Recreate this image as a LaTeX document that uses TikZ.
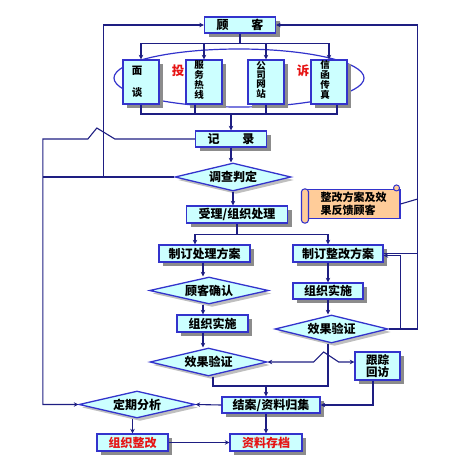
\documentclass[tikz,border=0pt]{standalone}
\usepackage{fontspec}
\setmainfont{Noto Sans CJK SC}
\usetikzlibrary{shapes.geometric,shadows,arrows.meta,calc}
\definecolor{boxfill}{RGB}{204,255,255}
\definecolor{boxdraw}{RGB}{51,51,204}
\definecolor{linec}{RGB}{30,30,130}
\definecolor{notefill}{RGB}{255,204,153}
\definecolor{redtext}{RGB}{230,20,20}
\begin{document}
\begin{tikzpicture}[x=1pt,y=-1pt,
  every node/.style={font=\fontsize{12}{14}\selectfont\bfseries, text=black},
  box/.style={draw=boxdraw, fill=boxfill, line width=1.3pt, inner sep=0pt,
    drop shadow={shadow xshift=4pt, shadow yshift=-4pt, fill=black!45, opacity=1}},
  dia/.style={diamond, aspect=4, draw=boxdraw, fill=boxfill, line width=1.3pt, inner sep=0pt,
    drop shadow={shadow xshift=3pt, shadow yshift=-3pt, fill=black!25, opacity=1}},
  vbox/.style={box, minimum width=36, minimum height=44},
  vtext/.style={align=center, inner sep=0pt, font=\fontsize{9.5}{8.8}\selectfont\bfseries},
  redlabel/.style={text=redtext, font=\fontsize{12.5}{14}\selectfont\bfseries},
  ln/.style={draw=linec, line width=1.1pt},
  arr/.style={ln, -{Stealth[length=4.5pt,width=4.5pt]}},
  darr/.style={ln, {Stealth[length=4.5pt,width=4.5pt]}-{Stealth[length=4.5pt,width=4.5pt]}},
]
\useasboundingbox (0,0) rectangle (465,474);

% ellipse behind the channel boxes
\draw[draw=boxdraw, line width=1.2pt] (239,78) ellipse [x radius=125, y radius=29];

% top
\node[box, minimum width=71, minimum height=16] (gk) at (240,25) {顾\hspace{1.9em}客};
\node[vbox] (mt) at (141,82) {};
\node[vbox] (fw) at (204,82) {};
\node[vbox] (gs) at (266,82) {};
\node[vbox] (xh) at (329,82) {};
\node[vtext, font=\fontsize{10.5}{12}\selectfont\bfseries] (mtt) at ([xshift=-4pt]mt.center) {面\\[10pt]谈};
\node[vtext] (fwt) at ([xshift=-5pt,yshift=2pt]fw.center) {服\\务\\热\\线};
\node[vtext] (gst) at ([xshift=-5pt,yshift=2pt]gs.center) {公\\司\\网\\站};
\node[vtext] (xht) at ([xshift=-4pt,yshift=2pt]xh.center) {信\\函\\传\\真};
\node[redlabel] (tou) at (178,71) {投};
\node[redlabel] (su) at (303,71) {诉};
\node[box, minimum width=71, minimum height=16] (jl) at (231,139) {记\hspace{1.9em}录};

\node[dia, minimum width=116, minimum height=28] (dc) at (233,177) {调查判定};
\node[box, minimum width=101, minimum height=17] (sl) at (237,214.5) {受理/组织处理};

% left column
\node[box, minimum width=91, minimum height=17] (zc) at (204.5,253.5) {制订处理方案};
\node[dia, minimum width=119, minimum height=27] (qr) at (209,290.5) {顾客确认};
\node[box, minimum width=71, minimum height=17] (ss1) at (212.5,323.5) {组织实施};
\node[dia, minimum width=117, minimum height=28] (yz1) at (208.5,362) {效果验证};

% right column
\node[box, minimum width=90, minimum height=17] (zg) at (338,253.5) {制订整改方案};
\node[box, minimum width=70, minimum height=16] (ss2) at (328,291) {组织实施};
\node[dia, minimum width=113, minimum height=28] (yz2) at (331.5,329) {效果验证};
\node[box, minimum width=45, minimum height=28, align=center,
  font=\fontsize{11.5}{12.5}\selectfont\bfseries] (gz) at (377.5,366) {跟踪\\回访};

% note scroll
\node[draw=boxdraw, fill=notefill, line width=1.1pt, minimum width=93, minimum height=29,
  align=left, inner sep=0pt, font=\fontsize{11}{12.5}\selectfont\bfseries] (note) at (353.5,204)
  {整改方案及效\\果反馈顾客};
\draw[draw=boxdraw, fill=notefill, line width=1.1pt, rounded corners=3pt]
  ($(note.north west)+(-5,0)$) rectangle ($(note.south west)+(2,4)$);
\draw[draw=boxdraw, fill=notefill, line width=1pt] ($(note.north east)+(-4,-1)$) circle (3);

% bottom
\node[box, minimum width=98, minimum height=16] (ja) at (271,405) {结案/资料归集};
\node[dia, minimum width=116, minimum height=27] (dq) at (137,404.5) {定期分析};
\node[box, minimum width=71, minimum height=17, text=redtext] (zz) at (132.5,442.5) {组织整改};
\node[box, minimum width=72, minimum height=17, text=redtext] (zd) at (266,442.5) {资料存档};

\coordinate (lcol) at (203,0);
\coordinate (rcol) at (328,0);

% connectors top
\draw[ln] (gk.south) -- ++(0,10) coordinate (bus1);
\draw[arr] (bus1) -| (mt.north);
\draw[arr] (bus1) -| (fw.north);
\draw[arr] (bus1) -| (gs.north);
\draw[arr] (bus1) -| (xh.north);
\coordinate (bus2) at (231,114);
\draw[ln] (mt.south) |- ([xshift=8pt]xh.south |- bus2) -- ([xshift=8pt]xh.south);
\draw[ln] ([xshift=-9pt]fw.south) -- ([xshift=-9pt]fw.south |- bus2);
\draw[ln] (gs.south) -- (gs.south |- bus2);
\draw[arr] (bus2) -- (jl.north);

% record to left, with hop
\draw[arr] (jl.west) -- ++(-80,0) -- ++(-18,-11) -- ++(-9,11) -- ++(-45,0) coordinate (lft) |- (dq.west);
\draw[arr] (jl.south) -- (jl.south |- dc.north);
\draw[ln] (dc.west) -- (dc.west -| lft);
\draw[arr] ([xshift=-71pt]dc.west) |- (gk.west);

\draw[arr] (dc.south) -- (dc.south |- sl.north);
\draw[ln] (sl.south) -- ++(0,11) coordinate (bus3);
\draw[arr] (bus3) -| ([xshift=-9.5pt]zc.north);
\draw[arr] (bus3) -| (zg.north -| rcol);

% left column
\draw[arr] (zc.south -| lcol) -- (qr.north -| lcol);
\draw[arr] (qr.south -| lcol) -- (ss1.north -| lcol);
\draw[arr] (ss1.south -| lcol) -- (yz1.north -| lcol);

% right column
\draw[arr] (zg.south -| rcol) -- (ss2.north -| rcol);
\draw[arr] (ss2.south -| rcol) -- (yz2.north -| rcol);
\draw[arr] (yz2.east) -- ++(29,0) coordinate (R1) |- (gk.east);
\draw[ln] (zg.east) -- (zg.east -| R1);
\draw[arr] (yz2.east) -- ++(12,0) |- ([yshift=-2pt]zg.east);
\draw[ln] (note.east) -- ([yshift=5pt]note.east -| R1);

% merge to closing
\coordinate (mrg) at (266,386);
\draw[ln] ([xshift=4.5pt]yz1.south) |- (mrg);
\draw[ln] (yz2.south -| rcol) |- (mrg);
\draw[arr] (mrg) -- (mrg |- ja.north);

% hop line between verification and follow-up
\draw[darr] (yz1.east) -- ++(46,0) -- ++(10,-10) -- ++(15,10) -- (gz.west |- yz1.east);
\draw[arr] ([xshift=-4.5pt]gz.south) |- (ja.east);

\draw[arr] (ja.west) -- (dq.east);
\draw[arr] (zz.north |- dq.south) -- (zz.north);
\draw[arr] (ja.south -| zd.north) -- (zd.north);
\draw[arr] (zz.east) -- (zd.west);
\end{tikzpicture}
\end{document}
